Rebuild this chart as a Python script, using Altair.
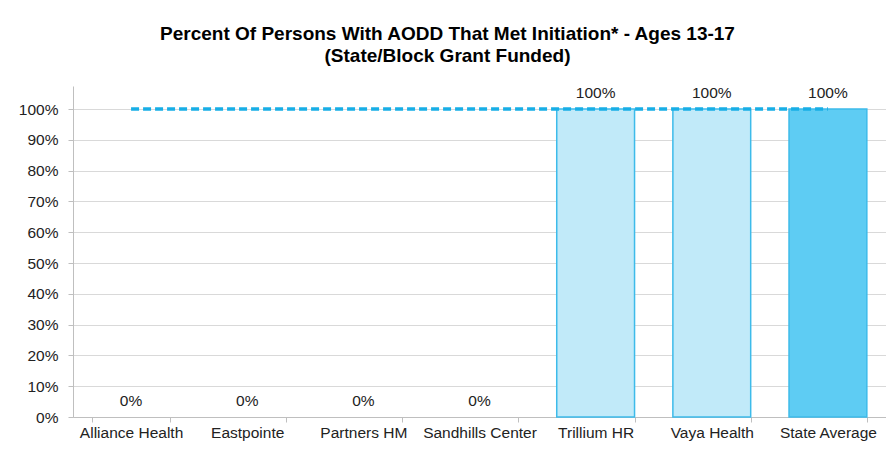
import altair as alt
import pandas as pd

categories = ["Alliance Health", "Eastpointe", "Partners HM", "Sandhills Center",
              "Trillium HR", "Vaya Health", "State Average"]
values = [0.0, 0.0, 0.0, 0.0, 1.0, 1.0, 1.0]
state_average = [1.0] * 7
bar_kind = ["LME", "LME", "LME", "LME", "LME", "LME", "State"]
y_ticks = [0, 0.1, 0.2, 0.3, 0.4, 0.5, 0.6, 0.7, 0.8, 0.9, 1.0]

df = pd.DataFrame({"cat": categories, "val": values, "avg": state_average, "kind": bar_kind})

FONT = "Liberation Sans"
LBL = 15.5

x_axis = alt.Axis(labelAngle=0, labelFontSize=LBL, labelFont=FONT, labelColor="#222222",
                  domainColor="#BFBFBF", tickColor="#BFBFBF", tickSize=5,
                  tickBand="extent", labelPadding=3, grid=False, labelOverlap=False)
x_scale = alt.Scale(paddingInner=0.33, paddingOuter=0.165)
y_axis = alt.Axis(values=y_ticks, format=".0%", labelFontSize=LBL, labelFont=FONT,
                  labelColor="#222222", domainColor="#BFBFBF", tickColor="#BFBFBF",
                  tickSize=5, gridColor="#D9D9D9", labelPadding=10,
                  labelOverlap=False, labelFlush=False, tickCount=11)
y_scale = alt.Scale(domain=[0, 1.075], nice=False)


def X():
    return alt.X("cat:N", sort=categories, title=None, scale=x_scale, axis=x_axis)


def Y(field):
    return alt.Y(field, type="quantitative", title=None, scale=y_scale, axis=y_axis)


base = alt.Chart(df)

bars = base.transform_filter(alt.datum.val > 0).mark_bar(strokeWidth=1.5, stroke="#3DBBEA").encode(
    x=X(), y=Y("val"),
    color=alt.Color("kind:N", scale=alt.Scale(domain=["LME", "State"],
                                              range=["#C1EAF9", "#5ECCF3"]), legend=None),
)

labels = base.mark_text(baseline="bottom", dy=-8, fontSize=LBL, font=FONT, color="#222222").encode(
    x=X(), y=Y("val"),
    text=alt.Text("val:Q", format=".0%"),
)

line = base.mark_line(color="#18AEE6", strokeWidth=3.5, strokeDash=[8, 4]).encode(
    x=X(), y=Y("avg"),
)

chart = alt.layer(bars, line, labels).properties(
    width=813, height=331,
    padding={"left": 65, "top": 78, "right": 0, "bottom": 26},
    autosize=alt.AutoSizeParams(type="none"),
    title=alt.TitleParams(
        ["Percent Of Persons With AODD That Met Initiation* - Ages 13-17",
         "(State/Block Grant Funded)"],
        font=FONT, fontSize=19, fontWeight="bold", color="#000000",
        anchor="middle", dx=-32, offset=20, lineHeight=22,
    ),
).configure_view(stroke=None)

chart.save("out.html", embed_options={"renderer": "svg", "actions": False})
